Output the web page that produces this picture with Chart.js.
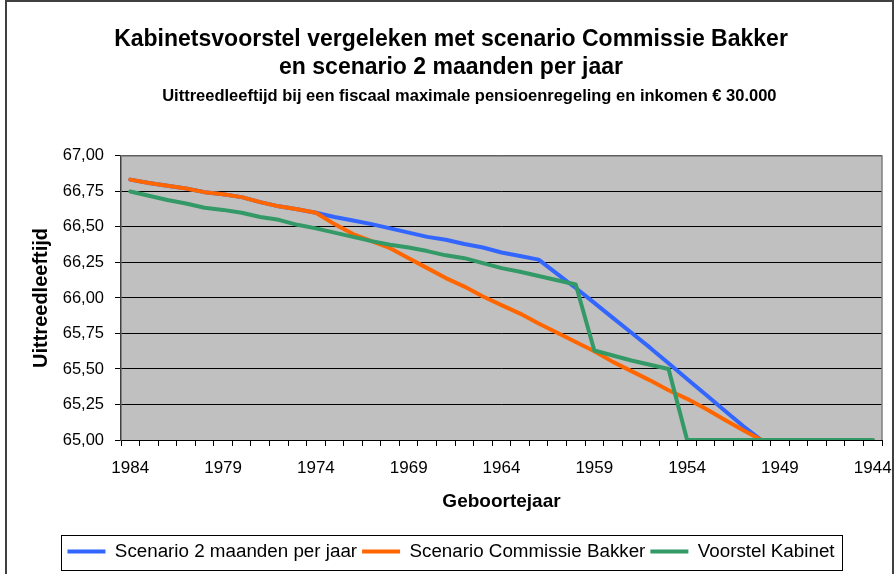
<!DOCTYPE html>
<html>
<head>
<meta charset="utf-8">
<script src="https://cdn.jsdelivr.net/npm/chart.js@4.4.1/dist/chart.umd.min.js"></script>
<style>
  html, body { margin: 0; padding: 0; background: #fff; }
  #wrap { width: 895px; height: 574px; }
</style>
</head>
<body>
<div id="wrap"><canvas id="grafiek" width="895" height="574"></canvas></div>
<script>
// --- Data ---
const jaren = [
  '1984', '1983', '1982', '1981', '1980', '1979', '1978', '1977', '1976', '1975',
  '1974', '1973', '1972', '1971', '1970', '1969', '1968', '1967', '1966', '1965',
  '1964', '1963', '1962', '1961', '1960', '1959', '1958', '1957', '1956', '1955',
  '1954', '1953', '1952', '1951', '1950', '1949', '1948', '1947', '1946', '1945', '1944'
];
const jaarLabels = ['1984', '1979', '1974', '1969', '1964', '1959', '1954', '1949', '1944'];

const scenario2Maanden = [
  66.833, 66.81, 66.79, 66.77, 66.745, 66.73, 66.71, 66.675, 66.645, 66.625,
  66.60, 66.57, 66.545, 66.52, 66.49, 66.46, 66.43, 66.41, 66.38, 66.355,
  66.32, 66.295, 66.27, 66.17, 66.07, 65.965, 65.86, 65.755, 65.65, 65.54,
  65.43, 65.32, 65.21, 65.10, 65.00, 65.00, 65.00, 65.00, 65.00, 65.00, 65.00
];
const scenarioBakker = [
  66.833, 66.81, 66.79, 66.77, 66.745, 66.73, 66.71, 66.675, 66.645, 66.625,
  66.60, 66.52, 66.45, 66.40, 66.35, 66.28, 66.21, 66.14, 66.08, 66.01,
  65.95, 65.89, 65.82, 65.755, 65.69, 65.625, 65.55, 65.485, 65.42, 65.35,
  65.29, 65.22, 65.145, 65.07, 65.00, 65.00, 65.00, 65.00, 65.00, 65.00, 65.00
];
const voorstelKabinet = [
  66.75, 66.72, 66.69, 66.665, 66.635, 66.62, 66.60, 66.57, 66.55, 66.515,
  66.49, 66.46, 66.43, 66.40, 66.375, 66.355, 66.33, 66.30, 66.28, 66.245,
  66.21, 66.185, 66.155, 66.125, 66.095, 65.63, 65.595, 65.56, 65.53, 65.50,
  65.00, 65.00, 65.00, 65.00, 65.00, 65.00, 65.00, 65.00, 65.00, 65.00, 65.00
];

const FONT = "Arial, 'Liberation Sans', sans-serif";

// --- Achtergrond, kader en legendakader ---
const kader = {
  id: 'kader',
  beforeDraw(chart) {
    const { ctx, chartArea: a } = chart;
    ctx.save();
    ctx.fillStyle = '#ffffff';
    ctx.fillRect(0, 0, chart.width, chart.height);
    ctx.strokeStyle = '#404040';
    ctx.lineWidth = 2;
    ctx.strokeRect(6, 1, chart.width - 8, chart.height + 20);
    ctx.fillStyle = '#c0c0c0';
    ctx.fillRect(a.left, a.top, a.right - a.left, a.bottom - a.top);
    ctx.restore();
  },
  beforeDatasetsDraw(chart) {
    const { ctx, chartArea: a } = chart;
    ctx.save();
    ctx.strokeStyle = '#808080';
    ctx.lineWidth = 1.5;
    ctx.beginPath();
    ctx.moveTo(a.left, a.top);
    ctx.lineTo(a.right, a.top);
    ctx.lineTo(a.right, a.bottom);
    ctx.stroke();
    ctx.restore();
  },
  afterDraw(chart) {
    const boxes = chart.legend && chart.legend.legendHitBoxes;
    if (!boxes || !boxes.length) return;
    const left = Math.min(...boxes.map(b => b.left));
    const right = Math.max(...boxes.map(b => b.left + b.width));
    const mid = boxes[0].top + boxes[0].height / 2;
    const { ctx } = chart;
    ctx.save();
    ctx.strokeStyle = '#000000';
    ctx.lineWidth = 1;
    ctx.strokeRect(Math.round(left - 6) + 0.5, Math.round(mid - 17) + 0.5,
      Math.round(right - left + 14), 35);
    ctx.restore();
  }
};

const defaultLabels = Chart.defaults.plugins.legend.labels.generateLabels;

new Chart(document.getElementById('grafiek'), {
  type: 'line',
  data: {
    labels: jaren,
    datasets: [
      { label: 'Scenario 2 maanden per jaar', data: scenario2Maanden, borderColor: '#3366ff', backgroundColor: '#3366ff', order: 3 },
      { label: 'Scenario Commissie Bakker', data: scenarioBakker, borderColor: '#ff6600', backgroundColor: '#ff6600', order: 2 },
      { label: 'Voorstel Kabinet', data: voorstelKabinet, borderColor: '#339966', backgroundColor: '#339966', order: 1 }
    ]
  },
  options: {
    responsive: false,
    animation: false,
    devicePixelRatio: 1,
    layout: { padding: { left: 20, right: 13, top: 0, bottom: 3 } },
    elements: {
      line: { borderWidth: 4, tension: 0, fill: false, borderCapStyle: 'round', borderJoinStyle: 'round' },
      point: { radius: 0, hoverRadius: 0 }
    },
    plugins: {
      title: {
        display: true,
        text: ['Kabinetsvoorstel vergeleken met scenario Commissie Bakker', 'en scenario 2 maanden per jaar'],
        color: '#000',
        font: { family: FONT, size: 23, weight: 'bold', lineHeight: 1.22 },
        padding: { top: 26, bottom: 0 }
      },
      subtitle: {
        display: true,
        // voorloopspaties: in het origineel staat deze regel iets naar rechts
        text: '        Uittreedleeftijd bij een fiscaal maximale pensioenregeling en inkomen € 30.000',
        color: '#000',
        font: { family: FONT, size: 16.5, weight: 'bold', lineHeight: 1.2 },
        padding: { top: 4, bottom: 50 }
      },
      legend: {
        position: 'bottom',
        labels: {
          color: '#000',
          font: { family: FONT, size: 18.8 },
          boxWidth: 38,
          boxHeight: 4,
          padding: 5,
          sort: (a, b) => a.datasetIndex - b.datasetIndex,
          generateLabels: chart => defaultLabels(chart).map(item => {
            item.lineWidth = 0;
            item.fillStyle = item.strokeStyle;
            return item;
          })
        }
      },
      tooltip: { enabled: false }
    },
    scales: {
      x: {
        offset: true,
        afterFit: scale => { scale.paddingLeft = 0; scale.paddingRight = 0; },
        grid: { display: true, drawOnChartArea: false, drawTicks: true, tickLength: 6, color: '#000', offset: true },
        border: { color: '#000', width: 1 },
        ticks: {
          autoSkip: false,
          maxRotation: 0,
          color: '#000',
          padding: 12,
          font: { family: FONT, size: 17 },
          callback: function (value) {
            const lab = this.getLabelForValue(value);
            return jaarLabels.includes(lab) ? lab : '';
          }
        },
        title: {
          display: true,
          text: 'Geboortejaar',
          color: '#000',
          font: { family: FONT, size: 19, weight: 'bold', lineHeight: 1.2 },
          padding: { top: 0, bottom: 24 }
        }
      },
      y: {
        min: 65,
        max: 67,
        afterFit: scale => { scale.width = 101; },
        grid: { color: '#000', lineWidth: 1, tickLength: 6 },
        border: { color: '#404040', width: 1.5 },
        ticks: {
          stepSize: 0.25,
          color: '#000',
          padding: 11,
          font: { family: FONT, size: 16.5 },
          callback: v => v.toFixed(2).replace('.', ',')
        },
        title: {
          display: true,
          text: 'Uittreedleeftijd',
          color: '#000',
          font: { family: FONT, size: 20, weight: 'bold', lineHeight: 1.2 },
          padding: { top: 9, bottom: 0 }
        }
      }
    }
  },
  plugins: [kader]
});
</script>
</body>
</html>
